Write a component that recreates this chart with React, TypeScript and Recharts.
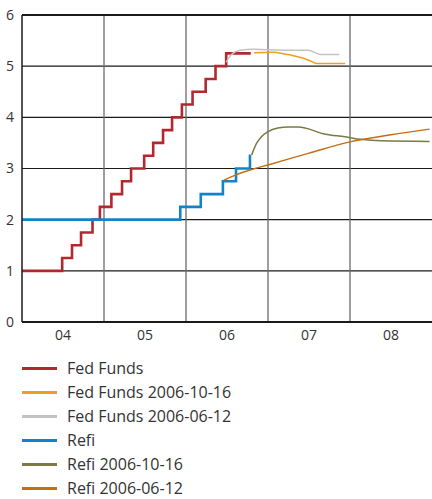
import { CartesianGrid, Legend, Line, LineChart, ReferenceLine, XAxis, YAxis } from 'recharts';

// x values are decimal years
const yearTicks = [2004.5, 2005.5, 2006.5, 2007.5, 2008.5];
const yearLabels = ['04', '05', '06', '07', '08'];
const yearBounds = [2005, 2006, 2007, 2008];
const rateTicks = [0, 1, 2, 3, 4, 5, 6];

const fedFundsDates = [
  2004.0, 2004.49, 2004.61, 2004.72, 2004.86, 2004.95, 2005.09, 2005.22, 2005.33, 2005.49,
  2005.6, 2005.72, 2005.83, 2005.95, 2006.08, 2006.24, 2006.36, 2006.49, 2006.79,
];
const fedFundsRates = [
  1.0, 1.25, 1.5, 1.75, 2.0, 2.25, 2.5, 2.75, 3.0, 3.25,
  3.5, 3.75, 4.0, 4.25, 4.5, 4.75, 5.0, 5.25, 5.25,
];

const ffOctDates = [2006.83, 2007.05, 2007.2, 2007.4, 2007.52, 2007.6, 2007.94];
const ffOctRates = [5.26, 5.27, 5.24, 5.17, 5.1, 5.05, 5.05];

const ffJunDates = [2006.49, 2006.55, 2006.66, 2006.82, 2006.98, 2007.25, 2007.49, 2007.64, 2007.87];
const ffJunRates = [5.08, 5.22, 5.31, 5.33, 5.32, 5.31, 5.31, 5.23, 5.23];

const refiDates = [2004.0, 2005.93, 2006.18, 2006.45, 2006.61, 2006.78, 2006.79];
const refiRates = [2.0, 2.25, 2.5, 2.75, 3.0, 3.25, 3.25];

const refiOctDates = [
  2006.8, 2006.86, 2006.92, 2007.0, 2007.12, 2007.25, 2007.37, 2007.7, 2007.94, 2008.13, 2008.38, 2008.97,
];
const refiOctRates = [3.26, 3.49, 3.62, 3.72, 3.79, 3.81, 3.81, 3.67, 3.62, 3.57, 3.54, 3.53];

const refiJunDates = [2006.46, 2006.6, 2006.82, 2007.0, 2007.5, 2008.0, 2008.5, 2008.97];
const refiJunRates = [2.77, 2.87, 2.99, 3.07, 3.3, 3.52, 3.66, 3.77];

const zip = (dates: number[], rates: number[]) => dates.map((t, i) => ({ t, v: rates[i] }));

const series = [
  { name: 'Fed Funds', color: '#b2282f', width: 2.6, step: true, data: zip(fedFundsDates, fedFundsRates) },
  { name: 'Fed Funds 2006-10-16', color: '#e9a21f', width: 1.5, step: false, data: zip(ffOctDates, ffOctRates) },
  { name: 'Fed Funds 2006-06-12', color: '#c3c3c3', width: 1.5, step: false, data: zip(ffJunDates, ffJunRates) },
  { name: 'Refi', color: '#1383c9', width: 2.6, step: true, data: zip(refiDates, refiRates) },
  { name: 'Refi 2006-10-16', color: '#7b7a44', width: 1.5, step: false, data: zip(refiOctDates, refiOctRates) },
  { name: 'Refi 2006-06-12', color: '#c46f12', width: 1.5, step: false, data: zip(refiJunDates, refiJunRates) },
];

const font = '"Open Sans", sans-serif';

function LegendList() {
  return (
    <ul style={{ listStyle: 'none', margin: 0, padding: '14px 0 0 0', fontFamily: font }}>
      {series.map((s) => (
        <li key={s.name} style={{ height: 24, display: 'flex', alignItems: 'center' }}>
          <span style={{ display: 'inline-block', width: 35, height: 3, marginLeft: 22, background: s.color }} />
          <span style={{ marginLeft: 10, fontSize: 16, color: '#333' }}>{s.name}</span>
        </li>
      ))}
    </ul>
  );
}

export default function App() {
  return (
    <div style={{ position: 'absolute', left: 0, top: 0, width: 432, height: 499, background: '#fff' }}>
      <LineChart width={432} height={499} margin={{ top: 15, right: 0, bottom: 0, left: 0 }}>
        <CartesianGrid vertical={false} stroke="#1a1a1a" strokeWidth={1.2} />
        {yearBounds.map((x) => (
          <ReferenceLine key={x} x={x} stroke="#6a6a6a" strokeWidth={1.3} />
        ))}
        <ReferenceLine y={6} stroke="#1a1a1a" strokeWidth={2} />
        <XAxis
          dataKey="t"
          type="number"
          domain={[2004, 2009]}
          ticks={yearTicks}
          tickFormatter={(v: number) => yearLabels[yearTicks.indexOf(v)]}
          tickLine={false}
          axisLine={{ stroke: '#1a1a1a', strokeWidth: 2 }}
          tick={{ fontSize: 14, fill: '#333', fontFamily: font }}
          height={20}
          allowDuplicatedCategory={false}
        />
        <YAxis
          domain={[0, 6]}
          ticks={rateTicks}
          width={22}
          tickLine={false}
          axisLine={{ stroke: '#1a1a1a', strokeWidth: 1.5 }}
          tick={{ fontSize: 14, fill: '#333', fontFamily: font }}
        />
        {series.map((s) => (
          <Line
            key={s.name}
            data={s.data}
            dataKey="v"
            name={s.name}
            type={s.step ? 'stepAfter' : 'monotone'}
            stroke={s.color}
            strokeWidth={s.width}
            dot={false}
            activeDot={false}
            isAnimationActive={false}
          />
        ))}
        <Legend
          verticalAlign="bottom"
          align="left"
          height={157}
          wrapperStyle={{ left: 0, bottom: 0, width: 432 }}
          content={() => <LegendList />}
        />
      </LineChart>
    </div>
  );
}
